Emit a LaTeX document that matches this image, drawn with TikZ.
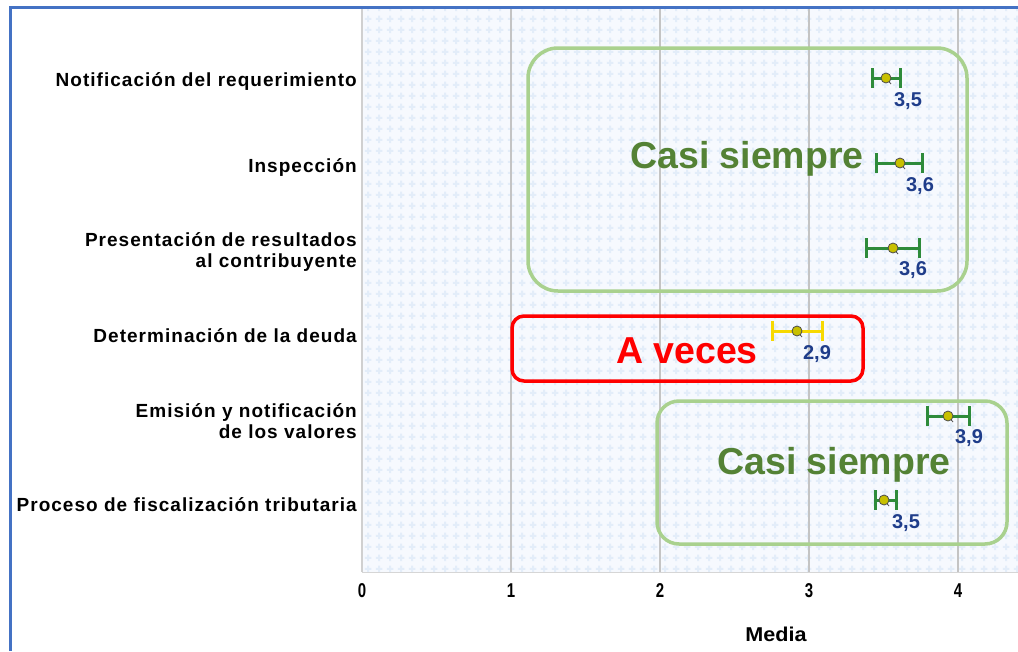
\documentclass[tikz,border=0pt]{standalone}
\usepackage{fontspec}
\usetikzlibrary{patterns}
\setmainfont{Liberation Sans}
\newfontfamily\catfont[LetterSpace=5.4]{Liberation Sans}
\definecolor{frameblue}{HTML}{4472C4}
\definecolor{gridgray}{HTML}{C4C4C4}
\definecolor{plotbg}{HTML}{F6F9FE}
\definecolor{crossblue}{HTML}{E3EDF9}
\definecolor{boxgreen}{HTML}{A9D18E}
\definecolor{txtgreen}{HTML}{548235}
\definecolor{bargreen}{HTML}{2E8B3A}
\definecolor{baryellow}{HTML}{F7D900}
\definecolor{mkfill}{HTML}{C8C000}
\definecolor{navy}{HTML}{1F3D8A}
\definecolor{redbox}{HTML}{FF0000}
\pgfdeclarepatternformonly{plusgrid}{\pgfpointorigin}{\pgfpoint{11pt}{11pt}}{\pgfpoint{11pt}{11pt}}{%
  \pgfsetlinewidth{2.2pt}%
  \pgfpathmoveto{\pgfpoint{2pt}{5.5pt}}\pgfpathlineto{\pgfpoint{9pt}{5.5pt}}%
  \pgfpathmoveto{\pgfpoint{5.5pt}{2pt}}\pgfpathlineto{\pgfpoint{5.5pt}{9pt}}%
  \pgfusepath{stroke}}
\tikzset{
  cat/.style={anchor=east,align=right,font=\catfont\bfseries\fontsize{19}{20.5}\selectfont,inner sep=0pt},
  val/.style={text=navy,font=\bfseries\fontsize{20}{22}\selectfont,inner sep=0pt},
  ticklab/.style={font=\bfseries\fontsize{20}{20}\selectfont,inner sep=0pt},
  big/.style={font=\bfseries\fontsize{37.5}{40}\selectfont,inner sep=0pt},
  errbar/.style={line width=3pt},
  meanmark/.style={circle,fill=mkfill,draw=black!70,line width=0.8pt,minimum size=10pt,inner sep=0pt},
}
\newcommand{\ebar}[5]{% y, lo, hi, mean, color
  \draw[errbar,#5] (#2,#1) -- (#3,#1);
  \draw[errbar,#5] (#2,#1-10) -- (#2,#1+10);
  \draw[errbar,#5] (#3,#1-10) -- (#3,#1+10);
  \draw[black!70,line width=0.8pt] (#4,#1) -- (#4+5,#1+6);
  \node[meanmark] at (#4,#1) {};
}
\begin{document}
\begin{tikzpicture}[x=1pt,y=-1pt]
\useasboundingbox (0,0) rectangle (1018,651);
\fill[white] (0,0) rectangle (1018,651);
% plot area
\fill[plotbg] (362,8) rectangle (1018,572);
\fill[pattern=plusgrid,pattern color=crossblue] (362,8) rectangle (1018,572);
\draw[gridgray!70,line width=0.8pt] (362,572) -- (1018,572);
\draw[gridgray!80,line width=1.5pt] (362,8) -- (362,572);
\foreach \v in {1,2,3,4} {
  \draw[gridgray,line width=1.5pt] (362+149*\v,8) -- (362+149*\v,572);
}
% frame
\draw[frameblue,line width=3pt] (10,651) -- (10,7) -- (1018,7);
% tick labels
\foreach \v in {0,1,2,3,4} {
  \node[ticklab] (t\v) at (362+149*\v,591) {\scalebox{0.75}[1]{\v}};
}
\node[ticklab,font=\bfseries\fontsize{20}{20}\selectfont] (xlab) at (776,634) {\scalebox{1.08}[1]{Media}};
% category labels
\node[cat] (c1) at (357,82) {Notificación del requerimiento};
\node[cat] (c2) at (357,167) {Inspección};
\node[cat] (c3) at (357,252) {Presentación de resultados\\al contribuyente};
\node[cat] (c4) at (357,336) {Determinación de la deuda};
\node[cat] (c5) at (357,421) {Emisión y notificación\\de los valores};
\node[cat] (c6) at (357,505) {Proceso de fiscalización tributaria};
% boxes
\draw[boxgreen,line width=3.5pt,rounded corners=30pt] (528,48) rectangle (967,291);
\draw[boxgreen,line width=3.5pt,rounded corners=22pt] (657,401) rectangle (1007,544);
\draw[redbox,line width=3.5pt,rounded corners=12pt] (512,316) rectangle (863,381);
\node[big,text=txtgreen] (cs1) at (747,159) {Casi siempre};
\node[big,text=txtgreen] (cs2) at (834,465) {Casi siempre};
\node[big,text=redbox] (av) at (687,351) {A veces};
% error bars
\ebar{78}{872}{900}{886}{bargreen}
\ebar{163}{876}{922}{900}{bargreen}
\ebar{248}{866}{919}{893}{bargreen}
\ebar{331}{772}{822}{797}{baryellow}
\ebar{416}{927}{969}{948}{bargreen}
\ebar{500}{875}{896}{884}{bargreen}
% values
\node[val] (v1) at (908,101) {3,5};
\node[val] (v2) at (920,186) {3,6};
\node[val] (v3) at (913,270) {3,6};
\node[val] (v4) at (817,354) {2,9};
\node[val] (v5) at (969,438) {3,9};
\node[val] (v6) at (906,523) {3,5};
\end{tikzpicture}
\end{document}
